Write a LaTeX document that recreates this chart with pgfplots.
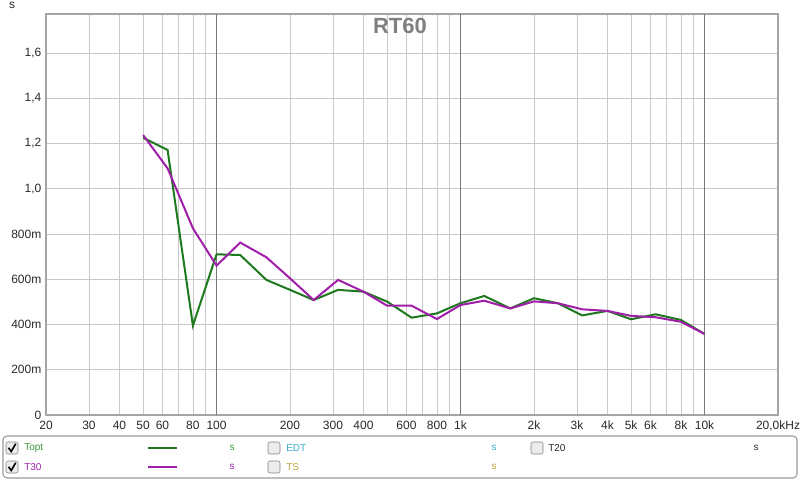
\documentclass[border=0pt]{standalone}
\usepackage{pgfplots}
\pgfplotsset{compat=1.18}
\usepackage{fontspec}
\setmainfont{Liberation Sans}
\definecolor{toptgreen}{RGB}{30,120,30}
\definecolor{tpurple}{RGB}{160,30,170}
\definecolor{lgreen}{RGB}{60,150,60}
\definecolor{edtcyan}{RGB}{60,170,200}
\definecolor{tsolive}{RGB}{190,165,60}
\definecolor{gridc}{RGB}{200,200,200}
\definecolor{decc}{RGB}{120,120,120}
\definecolor{framec}{RGB}{165,165,165}
\definecolor{tickc}{RGB}{40,40,40}

\pgfplotstableread{
f      topt   tthirty
50     1.225  1.237
63     1.171  1.090
80     0.395  0.825
100    0.710  0.660
125    0.707  0.762
160    0.597  0.697
200    0.553  0.604
250    0.508  0.508
315    0.553  0.597
400    0.545  0.545
500    0.501  0.483
630    0.430  0.483
800    0.449  0.424
1000   0.494  0.486
1250   0.526  0.505
1600   0.471  0.471
2000   0.516  0.502
2500   0.494  0.494
3150   0.440  0.467
4000   0.460  0.460
5000   0.423  0.438
6300   0.445  0.432
8000   0.420  0.412
10000  0.358  0.358
}\rtdata

\newcommand{\cbox}[2]{%
  \draw[rounded corners=1.5pt, draw=gray, fill=gray!15] (#1-4.5pt,#2-4.5pt) rectangle (#1+4.5pt,#2+4.5pt);}
\newcommand{\ccheck}[2]{%
  \draw[line width=1.2pt, black] (#1-2.6pt,#2+0.2pt) -- (#1-0.6pt,#2-2.6pt) -- (#1+2.8pt,#2+3.2pt);}

\begin{document}
\begin{tikzpicture}
\path[use as bounding box] (0,0) rectangle (600pt,360.75pt);
\begin{axis}[
  at={(34.5pt,49.5pt)}, anchor=south west,
  scale only axis, width=549pt, height=300.75pt,
  xmode=log, log basis x=10,
  xmin=20, xmax=20000, ymin=0, ymax=1.772,
  xtick={30,40,50,60,70,80,90,100,200,300,400,500,600,700,800,900,1000,2000,3000,4000,5000,6000,7000,8000,9000,10000},
  xticklabels={30,40,50,60,,80,,100,200,300,400,,600,,800,,1k,2k,3k,4k,5k,6k,,8k,,10k},
  extra x ticks={20,20000},
  extra x tick labels={20,{20,0kHz}},
  extra x tick style={grid=none, xticklabel style={xshift=0pt}},
  ytick={0,0.2,0.4,0.6,0.8,1.0,1.2,1.4,1.6},
  yticklabels={0,200m,400m,600m,800m,{1,0},{1,2},{1,4},{1,6}},
  major tick length=0pt,
  xmajorgrids, ymajorgrids,
  grid style={gridc, line width=0.6pt},
  axis line style={framec, line width=2pt},
  tick label style={font=\fontsize{9}{10}\selectfont, text=tickc},
  xticklabel style={yshift=-1pt},
  yticklabel style={xshift=0pt},
  clip=true,
]
\pgfplotsinvokeforeach{100,1000,10000}{
  \draw[decc, line width=0.7pt] (axis cs:#1,0) -- (axis cs:#1,1.772);
}
\addplot[toptgreen, line width=1.5pt] table[x=f, y=topt] {\rtdata};
\addplot[tpurple, line width=1.5pt] table[x=f, y=tthirty] {\rtdata};
\end{axis}
% title and unit
\node[font=\bfseries\fontsize{16.5}{18}\selectfont, text=gray] at (300pt,341pt) {RT60};
\node[font=\fontsize{9}{10}\selectfont, text=tickc] at (9pt,356.5pt) {s};
% legend panel
\draw[rounded corners=3pt, draw=gray!80, line width=0.8pt] (2.25pt,2.25pt) rectangle (597.75pt,33.75pt);
\begin{scope}[every node/.style={font=\fontsize{7.5}{9}\selectfont, inner sep=0pt}]
  % row 1
  \cbox{9pt}{24.75pt}\ccheck{9pt}{24.75pt}
  \node[anchor=west, text=lgreen] at (18pt,24.75pt) {Topt};
  \draw[toptgreen, line width=1.5pt] (111pt,24.75pt) -- (132.75pt,24.75pt);
  \node[text=lgreen] at (174pt,24.75pt) {s};
  \cbox{205.5pt}{24.75pt}
  \node[anchor=west, text=edtcyan] at (214.5pt,24.75pt) {EDT};
  \node[text=edtcyan] at (370.5pt,24.75pt) {s};
  \cbox{402.75pt}{24.75pt}
  \node[anchor=west, text=tickc] at (411pt,24.75pt) {T20};
  \node[text=tickc] at (567pt,24.75pt) {s};
  % row 2
  \cbox{9pt}{10.5pt}\ccheck{9pt}{10.5pt}
  \node[anchor=west, text=tpurple] at (18pt,10.5pt) {T30};
  \draw[tpurple, line width=1.5pt] (111pt,10.5pt) -- (132.75pt,10.5pt);
  \node[text=tpurple] at (174pt,10.5pt) {s};
  \cbox{205.5pt}{10.5pt}
  \node[anchor=west, text=tsolive] at (214.5pt,10.5pt) {TS};
  \node[text=tsolive] at (370.5pt,10.5pt) {s};
\end{scope}
\end{tikzpicture}
\end{document}
